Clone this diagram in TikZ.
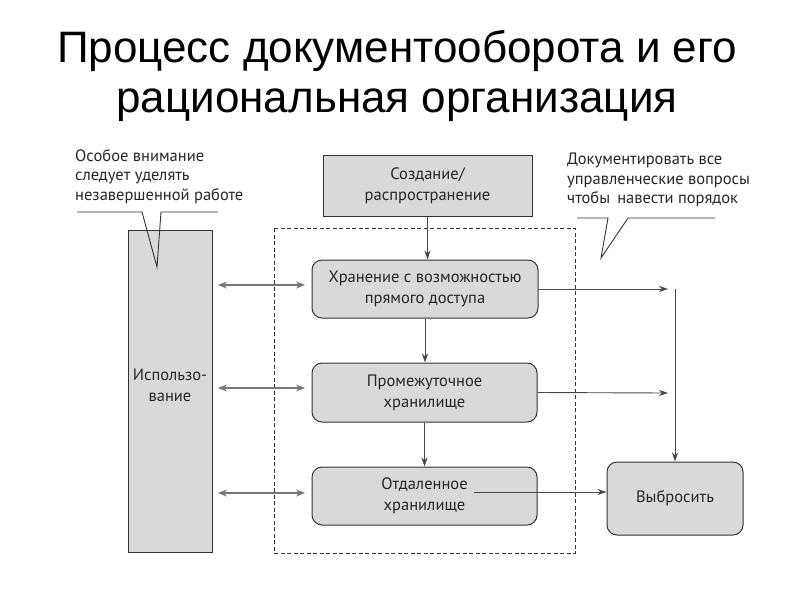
\documentclass[tikz,border=0pt]{standalone}
\usepackage{fontspec}
\setmainfont{PT Sans}
\newfontfamily\titlefont{Liberation Sans}
\usetikzlibrary{arrows.meta}
\definecolor{boxfill}{HTML}{D9D9D9}
\definecolor{boxline}{HTML}{333333}
\definecolor{arrgray}{HTML}{777777}
\begin{document}
\begin{tikzpicture}[x=1pt,y=-1pt,
  lbl/.style={font=\fontsize{16.5}{21}\selectfont, text=black!85, align=center, inner sep=0pt},
  sqbox/.style={draw=boxline, line width=1pt, fill=boxfill, inner sep=0pt},
  rbox/.style={sqbox, rounded corners=10pt},
  flow/.style={draw=boxline!90, line width=0.9pt, -{Stealth[length=9pt,width=6pt]}},
  dbl/.style={draw=arrgray, line width=1.2pt, {Stealth[length=9pt,width=7pt]}-{Stealth[length=9pt,width=7pt]}},
  callout/.style={draw=boxline, line width=0.9pt},
  note/.style={font=\fontsize{16.5}{19.5}\selectfont, align=left, inner sep=0pt, anchor=north west, text=black!85}]
\useasboundingbox (0,0) rectangle (794,595);
% title
\node[font=\titlefont\fontsize{44}{50}\selectfont, align=center, inner sep=0pt] (title) at (397,76) {Процесс документооборота и его\\рациональная организация};
% dashed frame
\draw[boxline, line width=1pt, dash pattern=on 4pt off 2.5pt] (274,228) rectangle (575,553);
% nodes
\node[sqbox, minimum width=84pt, minimum height=322pt] (use) at (170,391) {};
\node[lbl] (usetxt) at (170,385) {Использо-\\вание};
\node[sqbox, lbl, draw=boxline, fill=boxfill, minimum width=209pt, minimum height=61pt] (create) at (427.5,185.5) {Создание/\\распространение};
\node[rbox, lbl, draw=boxline, fill=boxfill, minimum width=226pt, minimum height=58pt, rounded corners=10pt] (s1) at (425,289) {Хранение с возможностью\\прямого доступа};
\node[rbox, lbl, draw=boxline, fill=boxfill, minimum width=225pt, minimum height=59pt, rounded corners=10pt] (s2) at (424.5,392.5) {Промежуточное\\хранилище};
\node[rbox, lbl, draw=boxline, fill=boxfill, minimum width=225pt, minimum height=58pt, rounded corners=10pt] (s3) at (424.5,496) {Отдаленное\\хранилище};
\node[rbox, lbl, draw=boxline, fill=boxfill, minimum width=136pt, minimum height=73pt, rounded corners=10pt] (discard) at (675,498.5) {Выбросить};
% notes
\node[note] (note1) at (75,149) {Особое внимание\\следует уделять\\незавершенной работе};
\node[note] (note2) at (567,153) {Документировать все\\управленческие вопросы\\чтобы\, навести порядок};
% callout pointers
\draw[callout] (77,212) -- (142,212) -- (157,267) -- (161,212) -- (218,212);
\draw[callout] (577,218) -- (608,218) -- (601,258) -- (628,218) -- (715,218);
% vertical flow
\draw[flow] (create.south) -- (create.south |- s1.north);
\draw[flow] (s1.south) -- (s1.south |- s2.north);
\draw[flow] (s2.south) -- (s2.south |- s3.north);
% to discard
\coordinate (j1) at (668,289);
\coordinate (j2) at (668,393);
\draw[flow] (s1.east) -- (j1);
\draw[flow] (s2.east) -- (j2);
\draw[flow] (discard.north |- s1.east) -- (discard.north);
\coordinate (s3out) at (474,492);
\draw[flow] (s3out) -- (s3out -| discard.west);
% double arrows
\coordinate (u1) at (218,285); \coordinate (v1) at (305,285);
\coordinate (u2) at (218,388); \coordinate (v2) at (305,388);
\coordinate (u3) at (218,493); \coordinate (v3) at (305,493);
\draw[dbl] (u1) -- (v1);
\draw[dbl] (u2) -- (v2);
\draw[dbl] (u3) -- (v3);
\end{tikzpicture}
\end{document}
